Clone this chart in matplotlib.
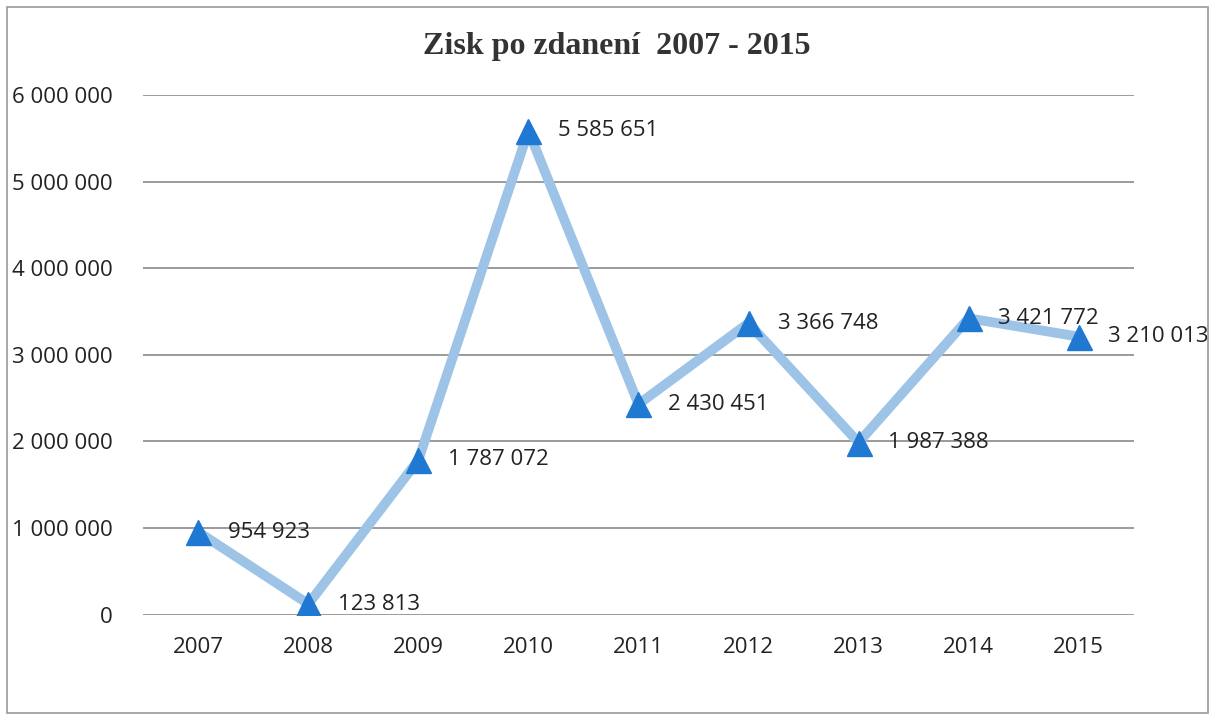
import matplotlib.pyplot as plt
from matplotlib.patches import Rectangle

years = ['2007', '2008', '2009', '2010', '2011', '2012', '2013', '2014', '2015']
profit = [954923, 123813, 1787072, 5585651, 2430451, 3366748, 1987388, 3421772, 3210013]
yticks = [0, 1000000, 2000000, 3000000, 4000000, 5000000, 6000000]


def fmt(v):
    return f'{v:,}'.replace(',', ' ')


fig = plt.figure(figsize=(12.15, 7.19), dpi=100)
ax = fig.add_axes([0.118, 0.145, 0.815, 0.723])

x = list(range(len(years)))
ax.plot(x, profit, color='#9DC3E6', lw=7, solid_capstyle='round', zorder=2)
ax.plot(x, profit, ls='none', marker='^', ms=18, color='#1F78D1',
        markeredgecolor='#1F78D1', zorder=3)

for xi, v in zip(x, profit):
    ax.annotate(fmt(v), (xi, v), xytext=(21, 0), textcoords='offset points',
                ha='left', va='center', fontsize=16, color='#222222',
                family='Open Sans', zorder=4)

ax.set_xlim(-0.5, len(years) - 0.5)
ax.set_ylim(0, 6000000)
ax.set_yticks(yticks)
ax.set_yticklabels([fmt(t) for t in yticks], family='Open Sans', fontsize=16, color='#222222')
ax.set_xticks(x)
ax.set_xticklabels(years, family='Open Sans', fontsize=16, color='#222222')
ax.tick_params(axis='y', length=0, pad=22)
ax.tick_params(axis='x', length=0, pad=16)
ax.grid(axis='y', color='#8a8a8a', lw=1.2)
ax.set_axisbelow(True)
for s in ax.spines.values():
    s.set_visible(False)

fig.text(0.508, 0.935, 'Zisk po zdanení  2007 - 2015', ha='center', va='center',
         family='Liberation Serif', fontweight='bold', fontsize=23, color='#333333')

fig.patches.append(Rectangle((0.006, 0.008), 0.988, 0.982, transform=fig.transFigure,
                             fill=False, edgecolor='#9a9a9a', lw=1.2))

fig.savefig('out.png', dpi=100)
